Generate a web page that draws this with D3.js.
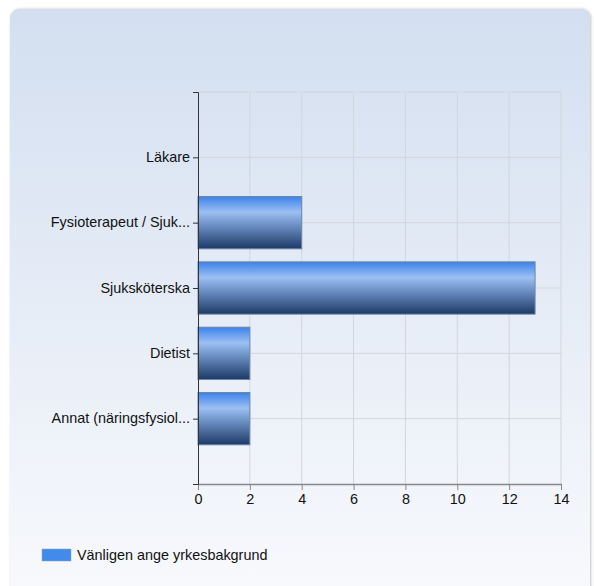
<!DOCTYPE html>
<html>
<head>
<meta charset="utf-8">
<script src="https://cdn.jsdelivr.net/npm/d3@7"></script>
<style>
  body { margin: 0; background: #fff; }
  svg text { font-family: Arial, "Liberation Sans", sans-serif; font-size: 14.4px; fill: #111; }
</style>
</head>
<body>
<div id="chart"></div>
<script>
// data
const categories = ["Läkare", "Fysioterapeut / Sjuk...", "Sjuksköterska", "Dietist", "Annat (näringsfysiol..."];
const values = [0, 4, 13, 2, 2];
const xTicks = [0, 2, 4, 6, 8, 10, 12, 14];
const seriesName = "Vänligen ange yrkesbakgrund";

const W = 594, H = 586;
const margin = { top: 92, right: 33, bottom: 102, left: 198 };
const width = W - margin.left - margin.right;
const height = H - margin.top - margin.bottom;

const svg = d3.select("#chart").append("svg")
    .attr("width", W)
    .attr("height", H);

const defs = svg.append("defs");
const bg = defs.append("linearGradient").attr("id", "bg").attr("x1", 0).attr("y1", 0).attr("x2", 0).attr("y2", 1);
bg.append("stop").attr("offset", "0%").attr("stop-color", "#d3dff0");
bg.append("stop").attr("offset", "100%").attr("stop-color", "#f9fafd");

const barGrad = defs.append("linearGradient").attr("id", "bar").attr("x1", 0).attr("y1", 0).attr("x2", 0).attr("y2", 1);
barGrad.append("stop").attr("offset", "0%").attr("stop-color", "#3b82ea");
barGrad.append("stop").attr("offset", "30%").attr("stop-color", "#9dc0f3");
barGrad.append("stop").attr("offset", "55%").attr("stop-color", "#6c8fc4");
barGrad.append("stop").attr("offset", "100%").attr("stop-color", "#1d3a66");

const shadow = defs.append("filter").attr("id", "shadow").attr("x", "-5%").attr("y", "-5%").attr("width", "110%").attr("height", "110%");
shadow.append("feDropShadow").attr("dx", 1).attr("dy", 0).attr("stdDeviation", 1.5).attr("flood-color", "#999").attr("flood-opacity", 0.6);

// panel
svg.append("rect")
    .attr("x", 10).attr("y", 9)
    .attr("width", 580).attr("height", 600)
    .attr("rx", 9)
    .attr("fill", "url(#bg)")
    .attr("filter", "url(#shadow)");

const g = svg.append("g").attr("transform", `translate(${margin.left},${margin.top})`);

const x = d3.scaleLinear().domain([0, 14]).range([0, width]);
const y = d3.scalePoint().domain(categories).range([0, height]).padding(1);
const barH = y.step() * 0.8;

// grid
g.append("g").selectAll("line.v")
    .data(xTicks.slice(1))
    .join("line")
    .attr("x1", d => x(d)).attr("x2", d => x(d))
    .attr("y1", 0).attr("y2", height)
    .attr("stroke", "#d2d6dc");
g.append("g").selectAll("line.h")
    .data(categories)
    .join("line")
    .attr("x1", 0).attr("x2", width)
    .attr("y1", d => y(d)).attr("y2", d => y(d))
    .attr("stroke", "#d2d6dc");
g.append("line")
    .attr("x1", 0).attr("x2", width)
    .attr("y1", 0).attr("y2", 0)
    .attr("stroke", "#d2d6dc");

// bars
g.append("g").selectAll("rect")
    .data(values)
    .join("rect")
    .attr("x", x(0))
    .attr("y", (d, i) => y(categories[i]) - barH / 2)
    .attr("width", d => x(d) - x(0))
    .attr("height", barH)
    .attr("fill", "url(#bar)")
    .attr("stroke", d => d > 0 ? "#6d85a6" : "none")
    .attr("stroke-width", 1);

// axes
const xAxis = g.append("g")
    .attr("transform", `translate(0,${height})`)
    .call(d3.axisBottom(x).tickValues(xTicks).tickSize(6).tickPadding(4).tickSizeOuter(0));
xAxis.select(".domain").attr("stroke", "#888").attr("stroke-width", 1.5);
xAxis.selectAll(".tick line").attr("stroke", "#888");
xAxis.selectAll("text").attr("font-size", 14);

const yAxis = g.append("g")
    .call(d3.axisLeft(y).tickSize(5).tickPadding(3).tickSizeOuter(5));
yAxis.select(".domain").attr("stroke", "#333");
yAxis.selectAll(".tick line").attr("stroke", "#333");
yAxis.selectAll("text").attr("font-size", 14.4).attr("dy", "0.3em");

// legend
const leg = svg.append("g").attr("transform", "translate(42,549)");
leg.append("rect").attr("width", 29).attr("height", 12).attr("fill", "#428be8").attr("stroke", "#7fa6d8").attr("stroke-width", 0.5);
leg.append("text").attr("x", 35).attr("y", 11).text(seriesName);
</script>
</body>
</html>
